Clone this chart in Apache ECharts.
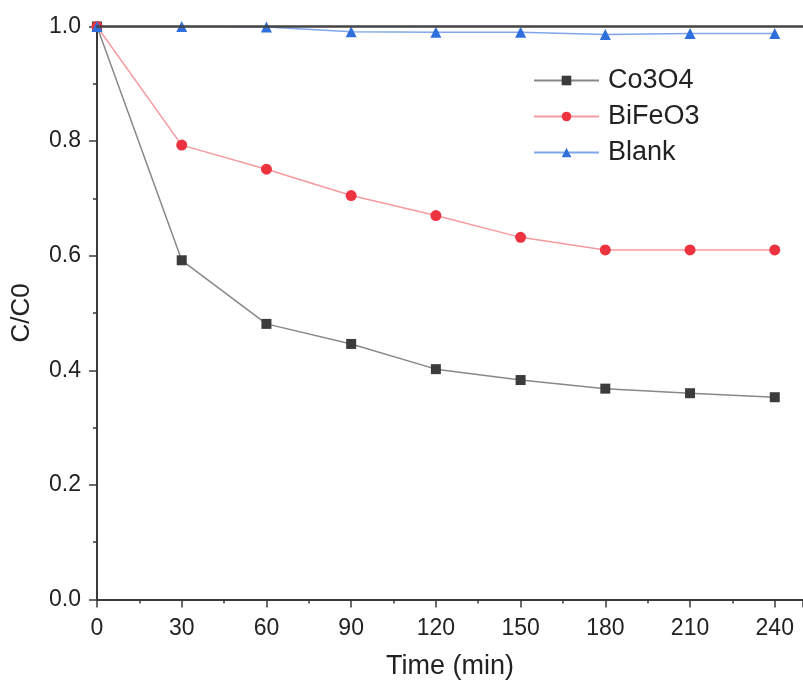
<!DOCTYPE html>
<html>
<head>
<meta charset="utf-8">
<script src="https://cdn.jsdelivr.net/npm/echarts@6/dist/echarts.min.js"></script>
<style>html,body{margin:0;padding:0;background:#fff}#c{width:803px;height:689px}</style>
</head>
<body>
<div id="c"></div>
<script>
const times = [0, 30, 60, 90, 120, 150, 180, 210, 240];
const co3o4 = [1.0, 0.592, 0.481, 0.446, 0.402, 0.383, 0.368, 0.360, 0.353];
const bifeo3 = [1.0, 0.793, 0.751, 0.705, 0.670, 0.632, 0.610, 0.610, 0.610];
const blank = [1.0, 1.0, 0.999, 0.991, 0.990, 0.990, 0.986, 0.988, 0.988];
const seriesNames = ['Co3O4', 'BiFeO3', 'Blank'];
const xTitle = 'Time (min)';
const yTitle = 'C/C0';

const pair = arr => times.map((t, i) => [t, arr[i]]);
const font = 'Liberation Sans, Arial, sans-serif';
const axisColor = '#3a3a3a';

const chart = echarts.init(document.getElementById('c'));
chart.setOption({
  animation: false,
  backgroundColor: '#fff',
  grid: { left: 97, top: 26.5, width: 710, height: 573 },
  legend: {
    orient: 'vertical', left: 528, top: 62,
    itemWidth: 65, itemHeight: 12, itemGap: 9,
    textStyle: { fontFamily: font, fontSize: 27, color: '#222', padding: [0, 0, 0, 4] },
    data: seriesNames
  },
  xAxis: [{
    type: 'value', min: 0, max: 250, interval: 30,
    name: xTitle, nameLocation: 'middle', nameGap: 54,
    nameTextStyle: { fontFamily: font, fontSize: 27, color: '#222' },
    axisLine: { onZero: false, lineStyle: { color: axisColor, width: 2 } },
    axisTick: { inside: false, length: 8, lineStyle: { color: axisColor, width: 1.5 } },
    minorTick: { show: true, splitNumber: 2, length: 4, lineStyle: { color: axisColor, width: 1.5 } },
    axisLabel: { fontFamily: font, fontSize: 23, color: '#222', margin: 18, showMaxLabel: false },
    splitLine: { show: false }
  }, {
    type: 'value', position: 'top', min: 0, max: 250, z: 10,
    axisLine: { onZero: false, lineStyle: { color: '#444', width: 2.5 } },
    axisTick: { show: false }, axisLabel: { show: false }, splitLine: { show: false }
  }],
  yAxis: {
    type: 'value', min: 0, max: 1.0, interval: 0.2,
    name: yTitle, nameLocation: 'middle', nameGap: 62, nameRotate: 90,
    nameTextStyle: { fontFamily: font, fontSize: 26, color: '#222' },
    axisLine: { show: true, onZero: false, lineStyle: { color: axisColor, width: 2 } },
    axisTick: { show: true, inside: false, length: 8, lineStyle: { color: axisColor, width: 1.5 } },
    minorTick: { show: true, splitNumber: 2, length: 4, lineStyle: { color: axisColor, width: 1.5 } },
    axisLabel: { fontFamily: font, fontSize: 23, color: '#222', margin: 16, formatter: v => v.toFixed(1) },
    splitLine: { show: false }
  },
  series: [
    {
      name: seriesNames[0], type: 'line', data: pair(co3o4),
      symbol: 'rect', symbolSize: 10,
      itemStyle: { color: '#3c3c3c' },
      lineStyle: { color: '#888', width: 1.5 }
    },
    {
      name: seriesNames[1], type: 'line', data: pair(bifeo3),
      symbol: 'circle', symbolSize: 11,
      itemStyle: { color: '#ee3340' },
      lineStyle: { color: '#f59a9f', width: 1.5 }
    },
    {
      name: seriesNames[2], type: 'line', data: pair(blank),
      symbol: 'triangle', symbolSize: 11,
      itemStyle: { color: '#2f6fdc' },
      lineStyle: { color: '#7fa6ec', width: 1.5 }
    }
  ]
});
</script>
</body>
</html>
